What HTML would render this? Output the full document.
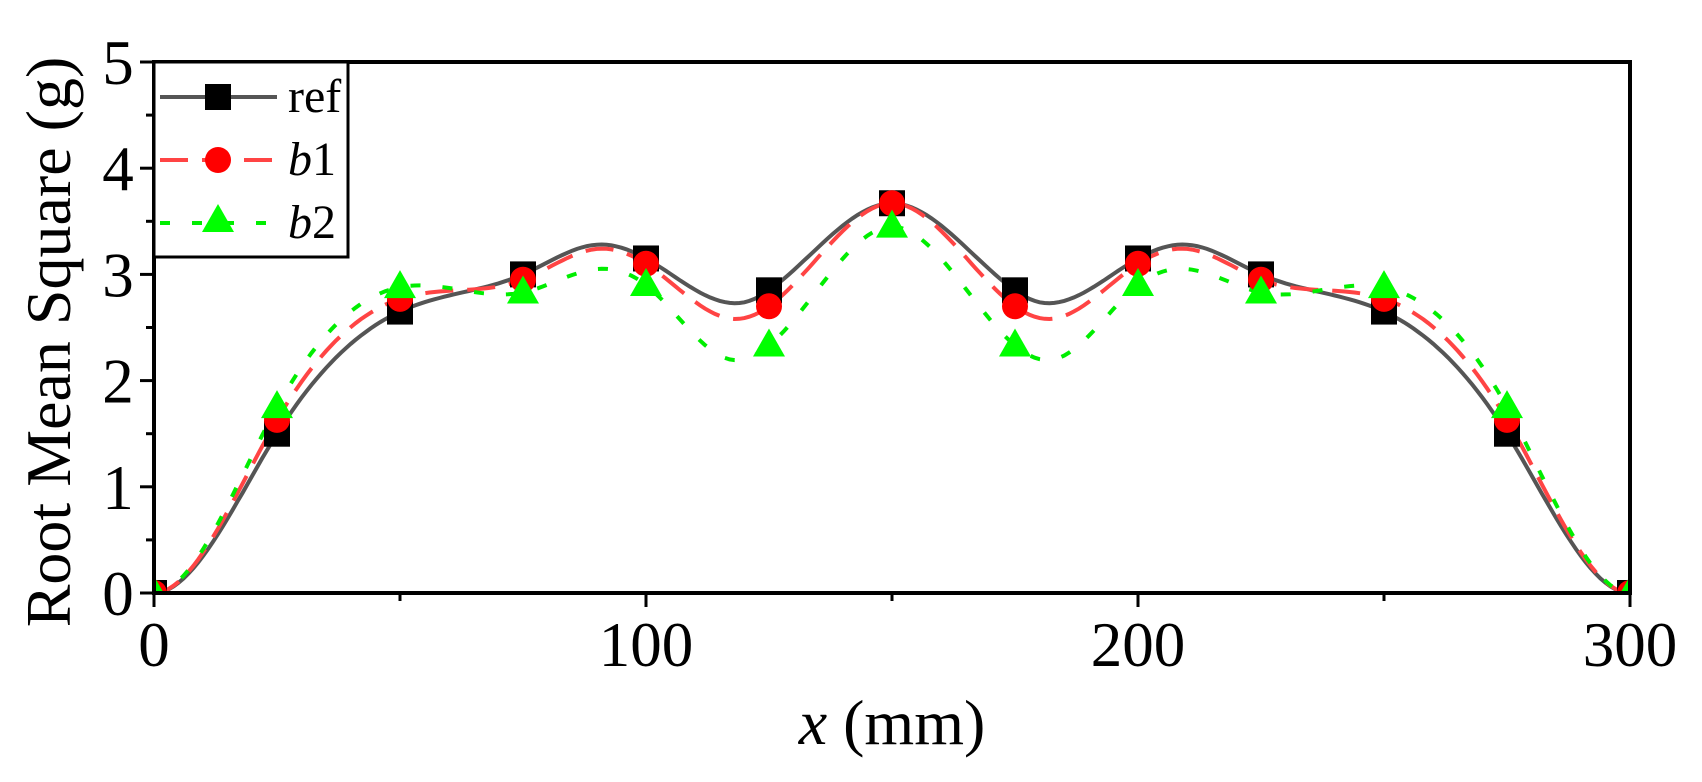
<!DOCTYPE html>
<html><head><meta charset="utf-8"><style>
html,body{margin:0;padding:0;background:#fff;}
svg{display:block;font-family:"Liberation Serif",serif;}
</style></head><body>
<svg id="s" width="1702" height="782" viewBox="0 0 1702 782" xmlns="http://www.w3.org/2000/svg">
<defs><clipPath id="c"><rect x="154" y="62" width="1476" height="531"/></clipPath></defs>
<g id="curves" clip-path="url(#c)"></g>
<g id="axes" stroke="#000" stroke-width="4" fill="none">
<rect x="154" y="62" width="1476" height="531"/>
</g>
<g id="ticks" stroke="#000" stroke-width="3"></g>
<g id="labels" font-size="63" text-anchor="middle" fill="#000"></g>
<text x="0" y="0" font-size="64" text-anchor="middle" transform="translate(70,342) rotate(-90)">Root Mean Square (g)</text>
<text x="892" y="744" font-size="64" text-anchor="middle"><tspan font-style="italic">x</tspan> (mm)</text>
<g id="legend">
<rect x="154" y="62" width="194" height="195" fill="#fff" stroke="#000" stroke-width="3"/>
<line x1="160" y1="97" x2="277" y2="97" stroke="#555" stroke-width="4"/>
<rect x="205" y="84" width="26" height="26" fill="#000"/>
<text x="288" y="112" font-size="48">ref</text>
<line x1="160" y1="160" x2="277" y2="160" stroke="#f44" stroke-width="4" stroke-dasharray="28,14"/>
<circle cx="218" cy="160" r="13" fill="#f00"/>
<text x="288" y="175" font-size="48"><tspan font-style="italic">b</tspan>1</text>
<line x1="160" y1="223" x2="277" y2="223" stroke="#0e0" stroke-width="4" stroke-dasharray="10,22"/>
<polygon points="218,204 234,232 202,232" fill="#0f0"/>
<text x="288" y="238" font-size="48"><tspan font-style="italic">b</tspan>2</text>
</g>
</svg>
<script>
var NS="http://www.w3.org/2000/svg";
function X(v){return 154+v*1476/300;}
function Y(v){return 593-v*531/5;}
function el(p,t,a){var e=document.createElementNS(NS,t);for(var k in a)e.setAttribute(k,a[k]);p.appendChild(e);return e;}
var xs=[0,25,50,75,100,125,150,175,200,225,250,275,300];
var data=[
 {y:[0,1.5,2.65,3.0,3.15,2.85,3.67,2.85,3.15,3.0,2.65,1.5,0],c:"#555",m:"#000",d:"",t:"s",
  ex:[[90,3.28],[121,2.75],[179,2.75],[210,3.28]]},
 {y:[0,1.63,2.77,2.95,3.1,2.7,3.67,2.7,3.1,2.95,2.77,1.63,0],c:"#f44",m:"#f00",d:"28,14",t:"c",
  ex:[[90,3.24],[118,2.58],[182,2.58],[210,3.24]]},
 {y:[0,1.75,2.88,2.83,2.9,2.33,3.45,2.33,2.9,2.83,2.88,1.75,0],c:"#0e0",m:"#0f0",d:"10,22",t:"t",
  ex:[[90,3.05],[117,2.2],[183,2.2],[210,3.05]]}];
function spline(x,y){var n=x.length,h=[],i;
 for(i=0;i<n-1;i++)h[i]=x[i+1]-x[i];
 var A=[],B=[],C=[],D=[];
 for(i=0;i<n;i++){
  if(i==0){A[i]=0;B[i]=2*h[0];C[i]=h[0];D[i]=3*(y[1]-y[0])/h[0];}
  else if(i==n-1){A[i]=h[n-2];B[i]=2*h[n-2];C[i]=0;D[i]=-3*(y[n-1]-y[n-2])/h[n-2];}
  else{A[i]=h[i-1];B[i]=2*(h[i-1]+h[i]);C[i]=h[i];D[i]=3*(y[i+1]-y[i])/h[i]-3*(y[i]-y[i-1])/h[i-1];}
 }
 for(i=1;i<n;i++){var m=A[i]/B[i-1];B[i]-=m*C[i-1];D[i]-=m*D[i-1];}
 var c=[];c[n-1]=D[n-1]/B[n-1];for(i=n-2;i>=0;i--)c[i]=(D[i]-C[i]*c[i+1])/B[i];
 var b=[],d=[];for(i=0;i<n-1;i++){b[i]=(y[i+1]-y[i])/h[i]-h[i]*(c[i+1]+2*c[i])/3;d[i]=(c[i+1]-c[i])/(3*h[i]);}
 return function(t){var i=0;while(i<n-2&&t>x[i+1])i++;var dx=t-x[i];return y[i]+b[i]*dx+c[i]*dx*dx+d[i]*dx*dx*dx;};}
var g=document.getElementById("curves");
data.forEach(function(s){
 var pts=xs.map(function(x,i){return [x,s.y[i]];}).concat(s.ex).sort(function(a,b){return a[0]-b[0];});
 var f=spline(pts.map(function(p){return p[0];}),pts.map(function(p){return p[1];})),p="";
 for(var t=0;t<=300;t+=1)p+=(t?"L":"M")+X(t).toFixed(1)+","+Y(f(t)).toFixed(1);
 var a={d:p,fill:"none",stroke:s.c,"stroke-width":4};if(s.d)a["stroke-dasharray"]=s.d;el(g,"path",a);});
data.forEach(function(s){xs.forEach(function(x,i){var cx=X(x),cy=Y(s.y[i]);
 if(s.t=="s")el(g,"rect",{x:cx-13,y:cy-13,width:26,height:26,fill:s.m});
 else if(s.t=="c")el(g,"circle",{cx:cx,cy:cy,r:13,fill:s.m});
 else el(g,"polygon",{points:cx+","+(cy-17)+" "+(cx+16)+","+(cy+11)+" "+(cx-16)+","+(cy+11),fill:s.m});});});
var tk=document.getElementById("ticks"),lb=document.getElementById("labels");
for(var v=0;v<=300;v+=50){var x=X(v),maj=v%100==0;el(tk,"line",{x1:x,y1:593,x2:x,y2:593+(maj?14:8)});
 if(maj){var tt=el(lb,"text",{x:x,y:666});tt.textContent=v;}}
for(var v=0;v<=5;v+=0.5){var y=Y(v),maj=v%1==0;el(tk,"line",{x1:154,y1:y,x2:154-(maj?14:8),y2:y});
 if(maj){var tt=el(lb,"text",{x:118,y:y+22});tt.textContent=v;}}
</script>
</body></html>
